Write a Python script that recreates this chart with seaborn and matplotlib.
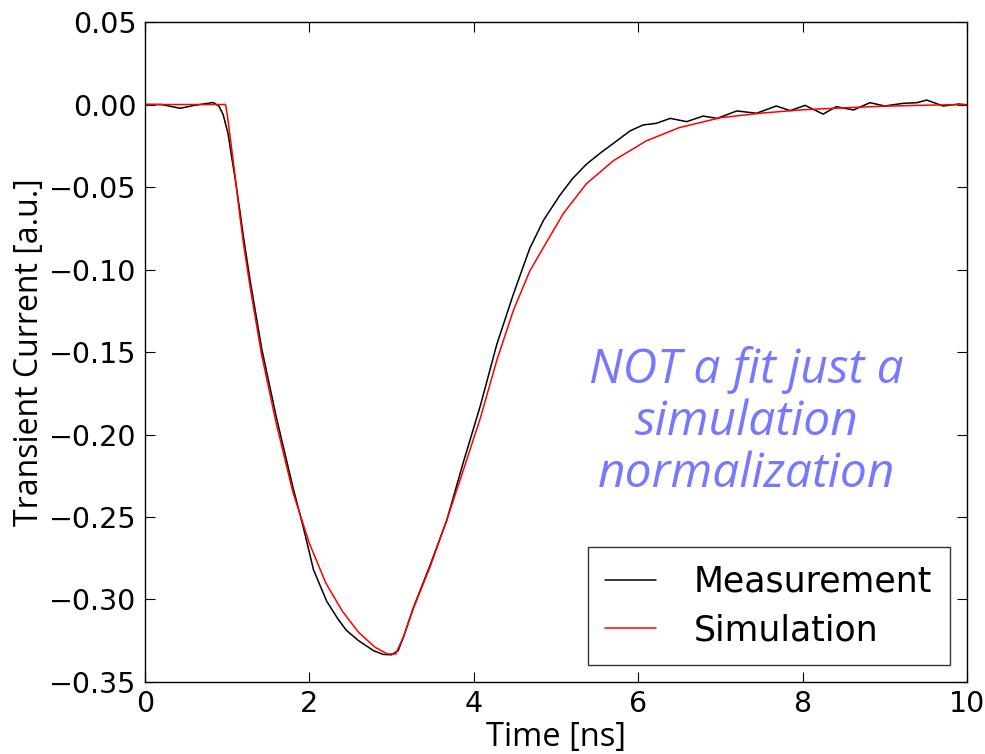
import matplotlib
matplotlib.use("Agg")
import matplotlib.pyplot as plt
import seaborn as sns

# measured transient current (black)
meas_t = [0.0, 0.2, 0.43, 0.6, 0.83, 0.9, 0.95, 1.01, 1.055, 1.1, 1.15, 1.2, 1.28,
          1.42, 1.6, 1.8, 1.93, 2.05, 2.21, 2.35, 2.45, 2.6, 2.78, 2.9, 3.0, 3.08,
          3.15, 3.26, 3.47, 3.67, 3.87, 4.08, 4.28, 4.48, 4.68, 4.85, 5.05, 5.2,
          5.37, 5.55, 5.7, 5.78, 5.9, 6.06, 6.22, 6.39, 6.59, 6.79, 6.96, 7.2,
          7.44, 7.68, 7.85, 8.03, 8.25, 8.41, 8.62, 8.82, 9.0, 9.22, 9.39, 9.51,
          9.71, 9.9, 10.0]
meas_i = [0.0, 0.0, -0.0023, -0.0005, 0.0012, -0.001, -0.006, -0.0175, -0.032,
          -0.046, -0.063, -0.081, -0.107, -0.148, -0.190, -0.232, -0.257, -0.282,
          -0.301, -0.312, -0.3187, -0.325, -0.331, -0.3333, -0.3335, -0.331,
          -0.322, -0.3056, -0.279, -0.2522, -0.2173, -0.1825, -0.1454, -0.1152,
          -0.0873, -0.070, -0.0548, -0.045, -0.0362, -0.029, -0.0235, -0.0205,
          -0.016, -0.0124, -0.0114, -0.0084, -0.0104, -0.0070, -0.0084, -0.0039,
          -0.0053, -0.0009, -0.0037, -0.0005, -0.0058, -0.0013, -0.0033, 0.0011,
          -0.0009, 0.0007, 0.0011, 0.0027, -0.0009, 0.0003, -0.0003]

# simulated transient current (red)
sim_t = [0.0, 0.98, 1.0, 1.05, 1.1, 1.15, 1.2, 1.28, 1.42, 1.6, 1.8, 2.0, 2.2,
         2.4, 2.6, 2.8, 2.95, 3.05, 3.15, 3.26, 3.47, 3.67, 3.87, 4.08, 4.28,
         4.48, 4.68, 4.89, 5.09, 5.37, 5.7, 6.1, 6.5, 7.0, 7.5, 8.0, 8.5, 9.0,
         9.5, 10.0]
sim_i = [0.0, 0.0, -0.006, -0.025, -0.045, -0.066, -0.085, -0.111, -0.152,
         -0.194, -0.235, -0.266, -0.290, -0.307, -0.320, -0.329, -0.333, -0.333,
         -0.322, -0.306, -0.280, -0.252, -0.222, -0.190, -0.155, -0.125, -0.101,
         -0.083, -0.066, -0.048, -0.034, -0.022, -0.014, -0.008, -0.0052,
         -0.0032, -0.002, -0.001, -0.0004, 0.0]

x_ticks = [0, 2, 4, 6, 8, 10]
y_ticks = [-0.35, -0.30, -0.25, -0.20, -0.15, -0.10, -0.05, 0.00, 0.05]

sns.set_style("ticks")
plt.rcParams['font.family'] = ['DejaVu Sans']
plt.rcParams['text.color'] = 'black'
plt.rcParams['axes.labelcolor'] = 'black'
plt.rcParams['xtick.color'] = 'black'
plt.rcParams['ytick.color'] = 'black'
plt.rcParams['axes.edgecolor'] = 'black'
plt.rcParams['axes.linewidth'] = 1.0

fig = plt.figure(figsize=(9.85, 7.54), dpi=100)
ax = fig.add_axes([0.1472, 0.0955, 0.8345, 0.8753])

sns.lineplot(x=meas_t, y=meas_i, color='black', linewidth=1.1,
             label='Measurement', ax=ax)
sns.lineplot(x=sim_t, y=sim_i, color='red', linewidth=1.1,
             label='Simulation', ax=ax)

ax.set_xlim(0, 10)
ax.set_ylim(-0.35, 0.05)
ax.set_xticks(x_ticks)
ax.set_yticks(y_ticks)
ax.set_xticklabels([str(t) for t in x_ticks])
ax.set_yticklabels([f"{t:.2f}".replace('-', '\u2212') for t in y_ticks])
ax.tick_params(direction='in', length=7, width=0.8, top=True, right=True,
               labelsize=20.5, pad=6)

ax.set_xlabel('Time [ns]', fontsize=23.5, family='Open Sans', labelpad=2)
ax.set_ylabel('Transient Current [a.u.]', fontsize=23, family='Open Sans',
              labelpad=2)

ax.text(7.32, -0.1924, 'NOT a fit just a\nsimulation\nnormalization',
        ha='center', va='center', fontsize=34.5, style='italic',
        family='Open Sans', color='#7777ff', linespacing=1.12)

leg = ax.legend(loc='lower right', fontsize=25, frameon=True, fancybox=False,
                handlelength=1.45, handletextpad=1.1, borderpad=0.5,
                labelspacing=0.42, borderaxespad=0.5,
                bbox_to_anchor=(1.0, 0.0))
leg.get_frame().set_edgecolor('black')
leg.get_frame().set_linewidth(1.0)
for line in leg.get_lines():
    line.set_linewidth(1.1)

plt.savefig('out.png', dpi=100)
plt.close()
